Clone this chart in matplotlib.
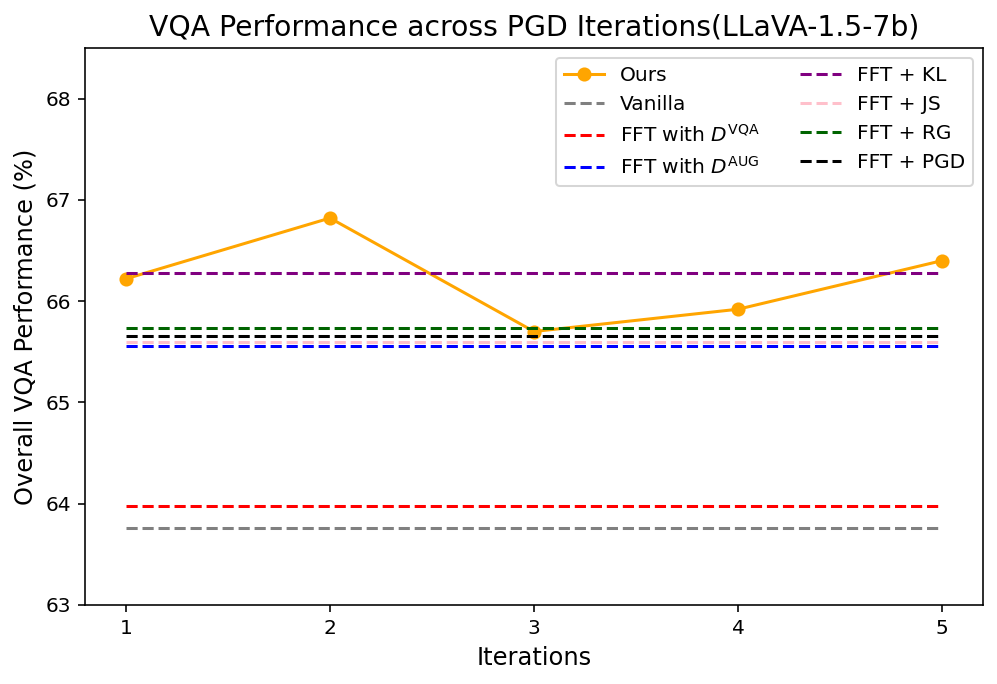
import numpy as np
import matplotlib.pyplot as plt

iterations = [1, 2, 3, 4, 5]
ours = [66.22, 66.82, 65.70, 65.92, 66.40]

baseline_names = ['Vanilla', r'FFT with $D^{\mathrm{VQA}}$', r'FFT with $D^{\mathrm{AUG}}$',
                  'FFT + KL', 'FFT + JS', 'FFT + RG', 'FFT + PGD']
baseline_values = [63.76, 63.98, 65.56, 66.28, 65.60, 65.73, 65.66]
baseline_colors = ['gray', 'red', 'blue', 'purple', 'pink', 'darkgreen', 'black']

DPI = 145
fig = plt.figure(figsize=(997 / DPI, 684 / DPI), dpi=DPI)
ax = fig.add_axes([0.0853, 0.1155, 0.9007, 0.8145])

ax.plot(iterations, ours, color='orange', marker='o', label='Ours')
for name, val, c in zip(baseline_names, baseline_values, baseline_colors):
    ax.plot([iterations[0], iterations[-1]], [val, val], linestyle='--', color=c, label=name)

ax.set_xticks(iterations)
ax.set_ylim(63, 68.5)
ax.set_xlabel('Iterations', fontsize=12)
ax.set_ylabel('Overall VQA Performance (%)', fontsize=12)
ax.set_title('VQA Performance across PGD Iterations(LLaVA-1.5-7b)', fontsize=14)
ax.legend(ncol=2, loc='upper right')

plt.savefig('out.png', dpi=DPI)
plt.close()
